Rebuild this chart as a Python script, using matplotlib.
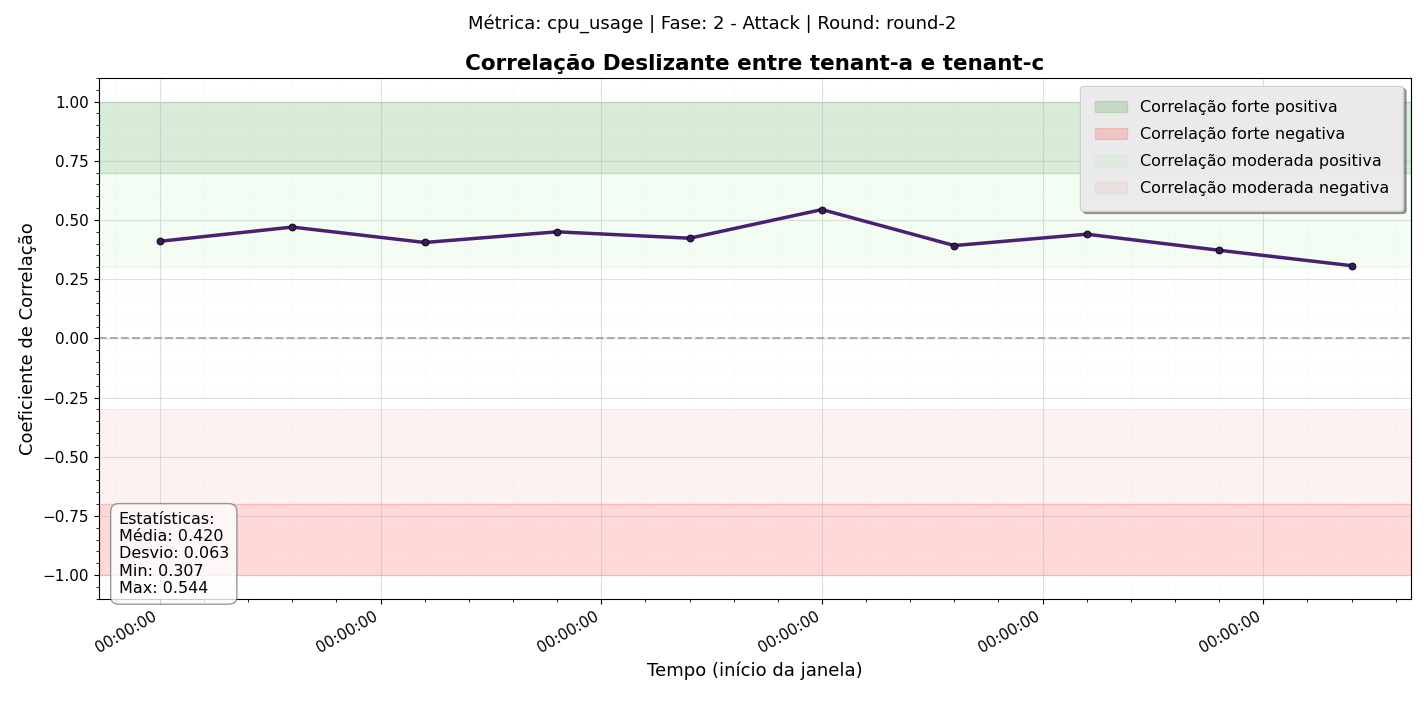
import matplotlib
matplotlib.use('Agg')
import matplotlib.pyplot as plt
import numpy as np

# janelas (indice) e correlacao
janelas = np.arange(10)
corr = [0.410, 0.470, 0.405, 0.450, 0.423, 0.544, 0.392, 0.440, 0.372, 0.307]
tick_pos = np.arange(0, 10, 5/3)
tick_labels = ['00:00:00'] * len(tick_pos)

fig, ax = plt.subplots(figsize=(14.24, 7.02), dpi=100)
fig.subplots_adjust(left=0.0695, right=0.991, top=0.889, bottom=0.147)

ax.axhspan(0.7, 1.0, color='green', alpha=0.15, label='Correlação forte positiva')
ax.axhspan(-1.0, -0.7, color='red', alpha=0.15, label='Correlação forte negativa')
ax.axhspan(0.3, 0.7, color='lightgreen', alpha=0.1, label='Correlação moderada positiva')
ax.axhspan(-0.7, -0.3, color='lightcoral', alpha=0.1, label='Correlação moderada negativa')
ax.axhline(0, color='gray', ls='--', alpha=0.6, lw=1.5)

ax.plot(janelas, corr, color='#4b1f73', lw=2.5, marker='o', ms=5,
        markerfacecolor='#3a1a5a', markeredgecolor='black', markeredgewidth=0.6)

ax.set_xlim(-0.46, 9.45)
ax.set_ylim(-1.1, 1.1)
ax.minorticks_on()
ax.set_xticks(tick_pos)
ax.set_xticklabels(tick_labels, rotation=30, ha='right')
ax.set_xticks(np.arange(-1/3, 9.5, 1/3), minor=True)
ax.tick_params(labelsize=11)
ax.grid(True, which='major', alpha=0.4)
ax.grid(True, which='minor', alpha=0.1, ls=':')

ax.set_xlabel('Tempo (início da janela)', fontsize=13)
ax.set_ylabel('Coeficiente de Correlação', fontsize=13)
ax.set_title('Correlação Deslizante entre tenant-a e tenant-c', fontsize=15.5, fontweight='bold')
fig.suptitle('Métrica: cpu_usage | Fase: 2 - Attack | Round: round-2', fontsize=13, y=0.98)

ax.legend(loc='upper right', fontsize=11.5, shadow=True, frameon=True, framealpha=0.9,
          facecolor='#f4f4f4', borderpad=0.9, labelspacing=0.75)

ax.text(0.015, 0.005, 'Estatísticas:\nMédia: 0.420\nDesvio: 0.063\nMin: 0.307\nMax: 0.544',
        transform=ax.transAxes, fontsize=11.5, va='bottom',
        bbox=dict(boxstyle='round,pad=0.5', facecolor='white', alpha=0.8, edgecolor='gray'))

fig.savefig('out.png', dpi=100)
